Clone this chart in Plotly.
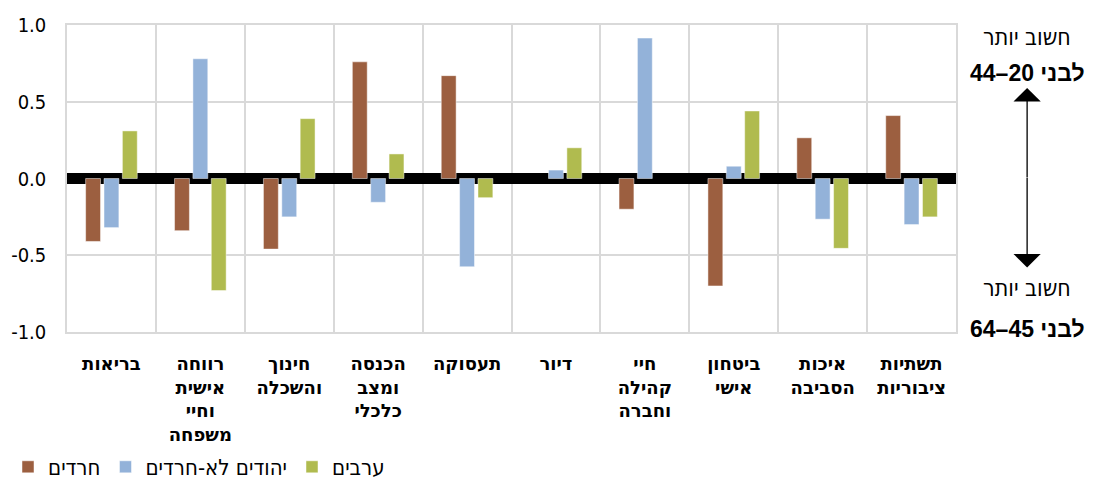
import plotly.graph_objects as go

categories = [
    "בריאות",
    "רווחה<br>אישית<br>וחיי<br>משפחה",
    "חינוך<br>והשכלה",
    "הכנסה<br>ומצב<br>כלכלי",
    "תעסוקה",
    "דיור",
    "חיי<br>קהילה<br>וחברה",
    "ביטחון<br>אישי",
    "איכות<br>הסביבה",
    "תשתיות<br>ציבוריות",
]
haredim = [-0.41, -0.34, -0.46, 0.76, 0.67, None, -0.20, -0.70, 0.265, 0.41]
jews_non_haredi = [-0.32, 0.78, -0.25, -0.155, -0.575, 0.055, 0.915, 0.08, -0.265, -0.30]
arabs = [0.31, -0.73, 0.39, 0.16, -0.125, 0.20, None, 0.44, -0.455, -0.25]

series_names = ["חרדים", "יהודים לא-חרדים", "ערבים"]
colors = ["#9C5F40", "#93B2D9", "#B0BB4F"]
ytickvals = [-1.0, -0.5, 0.0, 0.5, 1.0]
yticktext = ["-1.0", "-0.5", "0.0", "0.5", "1.0"]

fig = go.Figure()
for name, vals, col in zip(series_names, [haredim, jews_non_haredi, arabs], colors):
    fig.add_trace(go.Bar(
        x=categories, y=vals, name=name,
        marker=dict(color=col, line=dict(color="rgba(255,255,255,0.6)", width=0.8)),
    ))

GRID = "#D9D9D9"
COND = "DejaVu Sans Condensed, Liberation Sans Narrow, sans-serif"
# the page body adds an 8px offset, so the figure is 8px smaller and shifted
fig.update_layout(
    width=1087, height=480,
    margin=dict(l=59, r=139, t=17, b=156),
    plot_bgcolor="white", paper_bgcolor="white",
    barmode="group", bargap=0.38, bargroupgap=0.19,
    font=dict(family="Liberation Sans, Arial, sans-serif", color="black"),
    showlegend=True,
    legend=dict(
        orientation="h", xref="container", yref="container",
        x=0.0, xanchor="left", y=-0.018, yanchor="bottom",
        font=dict(size=22, family=COND),
        itemwidth=30, tracegroupgap=0, traceorder="normal",
    ),
)
fig.update_xaxes(
    type="category", tickson="boundaries", showgrid=True, gridcolor=GRID, gridwidth=1.5,
    showline=True, linecolor=GRID, linewidth=1.5, mirror=True, ticks="",
    tickfont=dict(size=18, family="DejaVu Sans, Liberation Sans, sans-serif", weight="bold"),
    ticklabelstandoff=15, automargin=False,
)
fig.update_yaxes(
    range=[-1, 1], tickvals=ytickvals, ticktext=yticktext,
    showgrid=True, gridcolor=GRID, gridwidth=1.5,
    showline=True, linecolor=GRID, linewidth=1.5, mirror=True,
    zeroline=True, zerolinecolor="black", zerolinewidth=11,
    layer="above traces",
    tickfont=dict(size=20, family=COND),
    ticks="", ticklabelstandoff=15, automargin=False,
)

ann_font = dict(size=23, family=COND, color="black")
ann_bold = dict(size=23, family="Liberation Sans, Arial, sans-serif", color="black", weight="bold")
xr = 1.08
fig.add_annotation(xref="paper", yref="paper", x=xr, y=0.961, xanchor="center", yanchor="middle",
                   text="חשוב יותר", showarrow=False, font=ann_font)
fig.add_annotation(xref="paper", yref="paper", x=xr, y=0.844, xanchor="center", yanchor="middle",
                   text="לבני 20–44", showarrow=False, font=ann_bold)
fig.add_annotation(xref="paper", yref="paper", x=xr, y=0.143, xanchor="center", yanchor="middle",
                   text="חשוב יותר", showarrow=False, font=ann_font)
fig.add_annotation(xref="paper", yref="paper", x=xr, y=0.01, xanchor="center", yanchor="middle",
                   text="לבני 45–64", showarrow=False, font=ann_bold)
# double-headed arrow made of two single-headed arrows from the centre
fig.add_annotation(xref="paper", yref="y", x=xr, y=0.59, ax=0, ay=91, text="", showarrow=True,
                   arrowhead=1, arrowsize=3.5, arrowwidth=1.3, arrowcolor="black")
fig.add_annotation(xref="paper", yref="y", x=xr, y=-0.58, ax=0, ay=-91, text="", showarrow=True,
                   arrowhead=1, arrowsize=3.5, arrowwidth=1.3, arrowcolor="black")

fig.write_html("out.html")
